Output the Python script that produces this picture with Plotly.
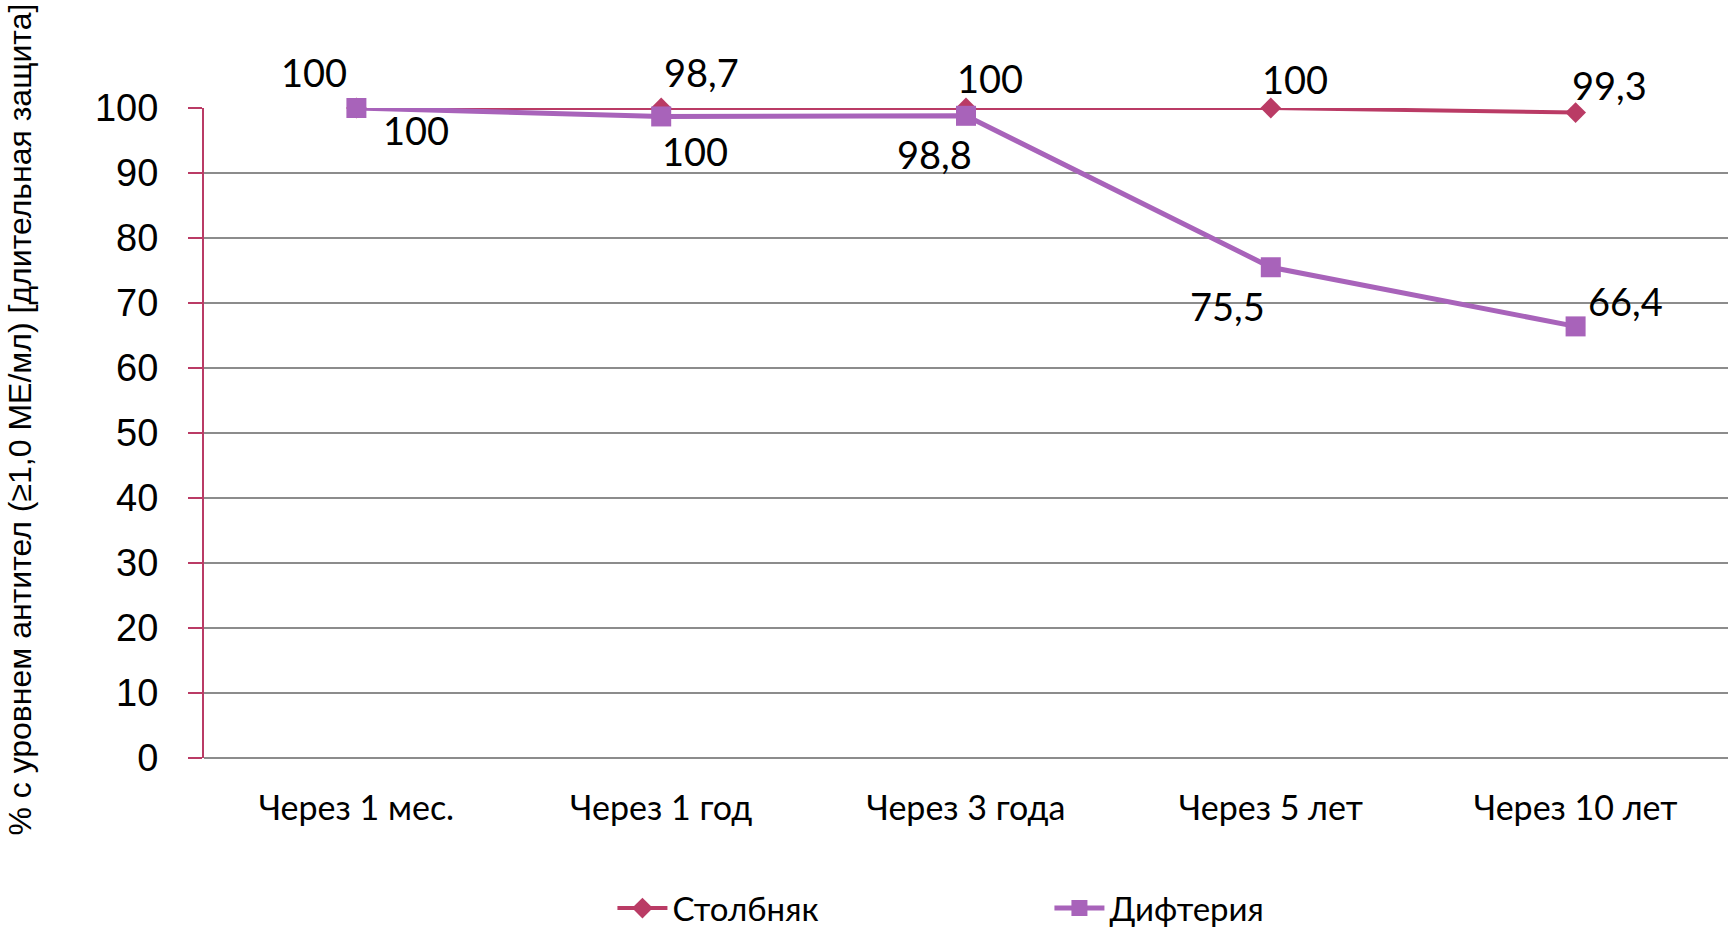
import plotly.graph_objects as go

categories = ["Через 1 мес.", "Через 1 год", "Через 3 года", "Через 5 лет", "Через 10 лет"]
tetanus = [100, 100, 100, 100, 99.3]
diphtheria = [100, 98.7, 98.8, 75.5, 66.4]
tetanus_labels = ["100", "98,7", "100", "100", "99,3"]
diphtheria_labels = ["100", "100", "98,8", "75,5", "66,4"]
y_ticks = [0, 10, 20, 30, 40, 50, 60, 70, 80, 90, 100]

# label offsets (px) as placed in the reference
tet_off = [(-42, -36), (40, -36), (24, -30), (24, -29), (34, -28)]
dip_off = [(60, 22), (34, 35), (-32, 38), (-43, 39), (50, -25)]

C_TET = "#BA3B65"
C_DIP = "#A863BA"

fig = go.Figure()
fig.add_trace(go.Scatter(
    x=categories, y=tetanus, name="Столбняк", mode="lines+markers",
    line=dict(color=C_TET, width=4),
    marker=dict(symbol="diamond", size=16, color=C_TET),
    cliponaxis=False))
fig.add_trace(go.Scatter(
    x=categories, y=diphtheria, name="Дифтерия", mode="lines+markers",
    line=dict(color=C_DIP, width=5),
    marker=dict(symbol="square", size=20, color=C_DIP),
    cliponaxis=False))

lab_font = dict(family="Lato, Carlito, Calibri, sans-serif", size=38, color="black")
for cat, v, t, (dx, dy) in zip(categories, tetanus, tetanus_labels, tet_off):
    fig.add_annotation(x=cat, y=v, text=t, showarrow=False, xshift=dx, yshift=-dy,
                       font=lab_font, xanchor="center", yanchor="middle")
for cat, v, t, (dx, dy) in zip(categories, diphtheria, diphtheria_labels, dip_off):
    fig.add_annotation(x=cat, y=v, text=t, showarrow=False, xshift=dx, yshift=-dy,
                       font=lab_font, xanchor="center", yanchor="middle")

fig.add_annotation(
    text="% с уровнем антител (≥1,0 МЕ/мл) [длительная защита]",
    xref="paper", yref="paper", x=-0.121, y=0.52, textangle=-90,
    showarrow=False, xanchor="center", yanchor="middle",
    font=dict(family="Liberation Sans, Arial, sans-serif", size=32, color="black"))

fig.update_layout(
    width=1731, height=931,
    margin=dict(l=204, r=3, t=108, b=173, autoexpand=False),
    paper_bgcolor="white", plot_bgcolor="white",
    showlegend=True,
    legend=dict(orientation="h", x=0.268, y=-0.231, xanchor="left", yanchor="middle",
                font=dict(family="Lato, Carlito, Calibri, sans-serif", size=33, color="black"),
                entrywidth=372, entrywidthmode="pixels", itemwidth=50),
    xaxis=dict(
        type="category", range=[-0.5, 4.5], showgrid=False, showline=False,
        zeroline=False, ticks="", ticklabelstandoff=27, automargin=False,
        tickfont=dict(family="Lato, Carlito, Calibri, sans-serif", size=34, color="black")),
    yaxis=dict(
        range=[0, 100], tickvals=y_ticks, showgrid=True, gridcolor="#8C8C8C", gridwidth=2,
        zeroline=True, zerolinecolor="#8C8C8C", zerolinewidth=2,
        showline=True, linecolor=C_TET, linewidth=2, automargin=False,
        ticks="outside", ticklen=14, tickwidth=2, tickcolor=C_TET,
        ticklabelstandoff=22,
        tickfont=dict(family="Liberation Sans, Arial, sans-serif", size=38, color="black")),
)

fig.write_html(
    "out.html",
    config={"displayModeBar": False},
    post_script="document.body.style.margin='0';document.body.style.overflow='hidden';",
)
